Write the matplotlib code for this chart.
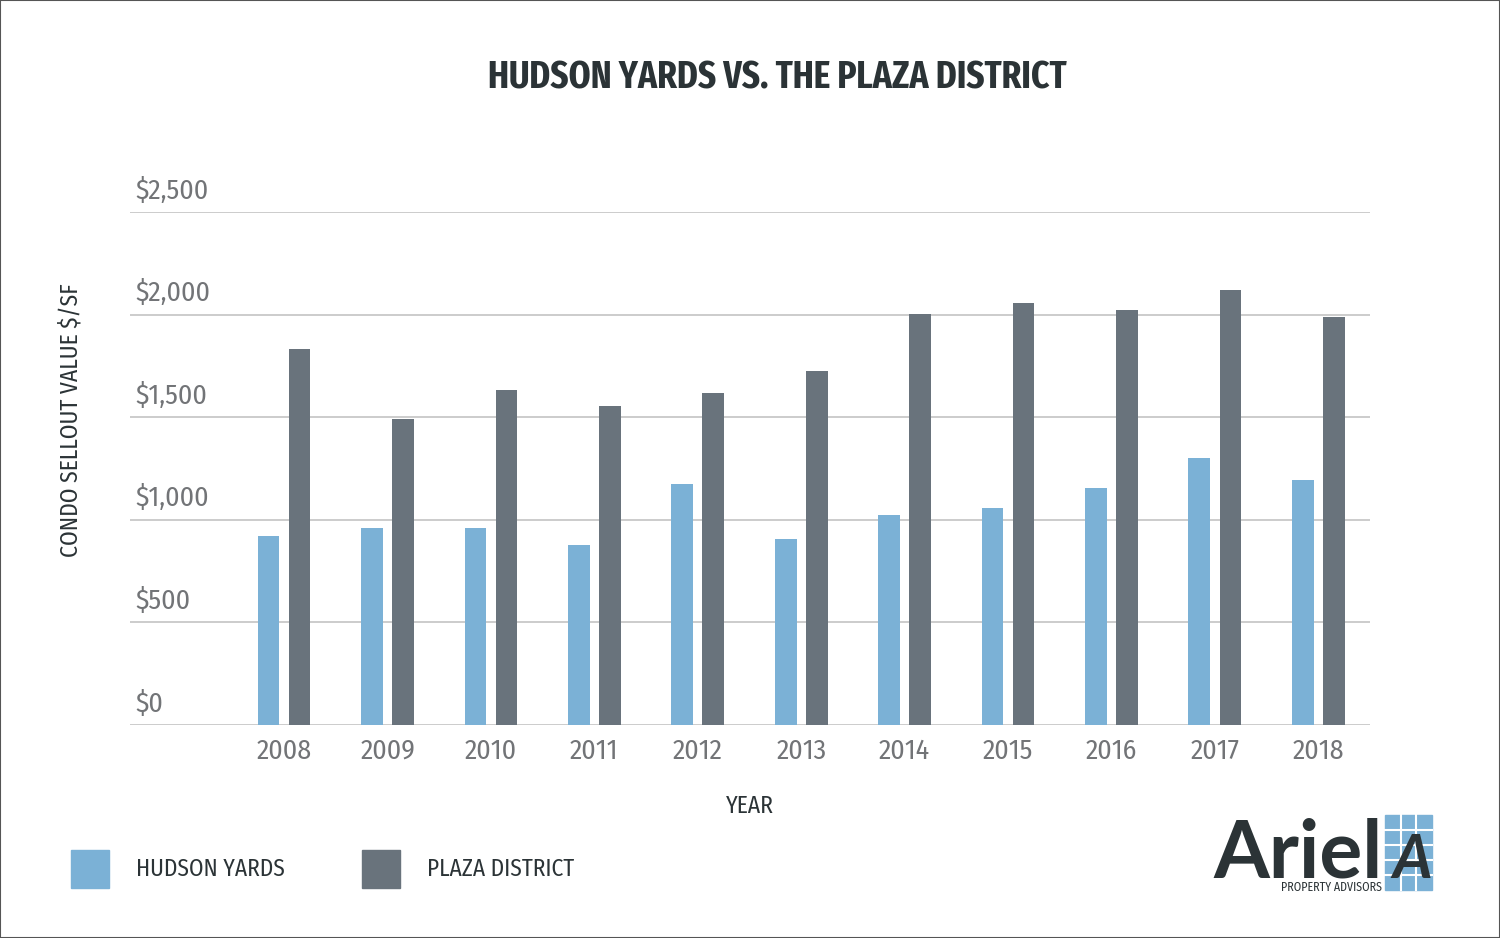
import matplotlib.pyplot as plt
from matplotlib.patches import Rectangle
from matplotlib import font_manager
import numpy as np

years = ["2008", "2009", "2010", "2011", "2012", "2013", "2014", "2015", "2016", "2017", "2018"]
hudson_yards = [921, 960, 960, 877, 1174, 906, 1023, 1057, 1155, 1301, 1194]
plaza_district = [1832, 1491, 1633, 1555, 1618, 1725, 2003, 2057, 2022, 2120, 1988]
y_ticks = [0, 500, 1000, 1500, 2000, 2500]

HY_COLOR = "#7bb1d6"
PD_COLOR = "#69737c"
DARK = "#2b3336"
GRAY = "#727477"

names = {f.name for f in font_manager.fontManager.ttflist}


def pick(cands, default="DejaVu Sans"):
    for c in cands:
        if c in names:
            return c
    return default


FONT = pick(["Fira Sans Condensed", "Roboto Condensed", "Open Sans Condensed",
             "PT Sans Narrow", "Archivo Narrow", "Encode Sans Condensed",
             "IBM Plex Sans Condensed", "Asap Condensed", "Liberation Sans Narrow"])
BOLD = pick(["Fira Sans Extra Condensed", "Fira Sans Condensed", "Roboto Condensed",
             "PT Sans Narrow", "Archivo Narrow", "Barlow Condensed", "Liberation Sans Narrow"])
LOGO = pick(["Lato", "Roboto"])
plt.rcParams["font.family"] = [FONT, "DejaVu Sans"]

W, H = 1500, 938
fig = plt.figure(figsize=(15, 9.38), dpi=100)
ax = fig.add_axes([130 / W, 1 - 725 / H, (1370 - 130) / W, (725 - 212) / H])

x = np.arange(len(years))
ax.bar(x - 0.15, hudson_yards, width=0.21, color=HY_COLOR, zorder=3)
ax.bar(x + 0.15, plaza_district, width=0.21, color=PD_COLOR, zorder=3)

ax.set_xlim(-1.49, 10.5)
ax.set_ylim(0, 2500)
for v in y_ticks:
    ax.axhline(v, color="#c8c8c8", lw=1.3, zorder=1)
    ax.text(-1.44, v + 38, "\\$" + format(v, ","), fontsize=20, color=GRAY,
            ha="left", va="bottom")
for s in ax.spines.values():
    s.set_visible(False)
ax.set_yticks([])
ax.set_xticks(x)
ax.set_xticklabels(years, fontsize=20, color=GRAY)
ax.tick_params(axis="x", length=0, pad=9)

fig.text(777 / W, 1 - 78 / H, "HUDSON YARDS VS. THE PLAZA DISTRICT", fontsize=27.5,
         fontweight="bold", family=[BOLD, "DejaVu Sans"], color=DARK,
         ha="center", va="center")
fig.text(750 / W, 1 - 806 / H, "YEAR", fontsize=17, color=DARK, ha="center", va="center")
fig.text(71 / W, 1 - 420 / H, "CONDO SELLOUT VALUE \\$/SF", fontsize=17, color=DARK,
         rotation=90, ha="center", va="center")

# legend
for x0, col, label in [(71, HY_COLOR, "HUDSON YARDS"), (362, PD_COLOR, "PLAZA DISTRICT")]:
    fig.patches.append(Rectangle((x0 / W, 1 - 888 / H), 38 / W, 38 / H,
                                 transform=fig.transFigure, color=col))
    fig.text((x0 + 65) / W, 1 - 869 / H, label, fontsize=16.8, color=DARK,
             ha="left", va="center")

# logo
fig.text(1383 / W, 1 - 877 / H, "Ariel", fontsize=58, fontweight="bold", color=DARK,
         family=[LOGO, "DejaVu Sans"], ha="right", va="baseline")
fig.text(1382 / W, 1 - 887 / H, "PROPERTY ADVISORS", fontsize=8.6, color=DARK,
         ha="right", va="center")
fig.patches.append(Rectangle((1385 / W, 1 - 890 / H), 47 / W, 75 / H,
                             transform=fig.transFigure, color=HY_COLOR))
fig.text(1412 / W, 1 - 860 / H, "A", fontsize=44, fontweight="bold", color=DARK,
         family=[LOGO, "DejaVu Sans"], ha="center", va="center", style="italic")
for i in range(1, 3):
    fig.add_artist(plt.Line2D([(1385 + i * 15.7) / W] * 2, [1 - 890 / H, 1 - 815 / H],
                              transform=fig.transFigure, color="white", lw=1.5))
for j in range(1, 5):
    fig.add_artist(plt.Line2D([1385 / W, 1432 / W], [1 - (815 + j * 15) / H] * 2,
                              transform=fig.transFigure, color="white", lw=1.5))

fig.patches.append(Rectangle((0, 0), 1, 1, transform=fig.transFigure, fill=False,
                             edgecolor="#555555", lw=1.5))

fig.savefig("out.png", dpi=100)
